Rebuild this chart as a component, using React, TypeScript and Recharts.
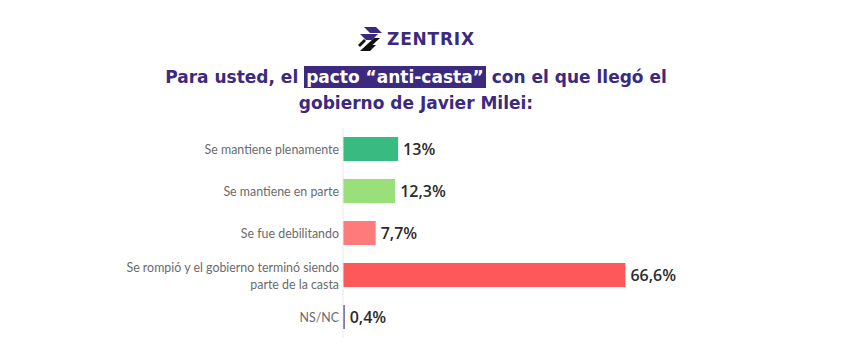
import React from 'react';
import { BarChart, Bar, XAxis, YAxis, Cell, LabelList } from 'recharts';

// respuestas de la encuesta
const categories = [
  'Se mantiene plenamente',
  'Se mantiene en parte',
  'Se fue debilitando',
  'Se rompió y el gobierno terminó siendo\nparte de la casta',
  'NS/NC',
];
const values = [13, 12.3, 7.7, 66.6, 0.4];
const barColors = ['#38ba80', '#9ae07a', '#ff7b7b', '#ff585a', '#4b3f98'];

const data = categories.map((name, i) => ({ name, value: values[i] }));

const PURPLE = '#3b2a80';

const CategoryTick = (props: any) => {
  const { x, y, payload } = props;
  const lines: string[] = String(payload.value).split('\n');
  const lineHeight = 17;
  const startY = y - ((lines.length - 1) * lineHeight) / 2;
  return (
    <text
      x={x}
      y={startY}
      textAnchor="end"
      dominantBaseline="central"
      fill="#6b6b6b"
      fontSize={12.4}
      fontFamily="Lato, sans-serif"
    >
      {lines.map((line, i) => (
        <tspan key={i} x={x} y={startY + i * lineHeight}>
          {line}
        </tspan>
      ))}
    </text>
  );
};

const formatPct = (v: number) => `${String(v).replace('.', ',')}%`;

const Logo = () => (
  <div style={{ position: 'absolute', left: 356, top: 25, display: 'flex', alignItems: 'center' }}>
    <svg width="28" height="28" viewBox="0 0 28 28">
      <polygon points="8,2 20,2 26,8 14,8" fill={PURPLE} />
      <polygon points="4,9 22,9 16,15 10,15" fill={PURPLE} />
      <polygon points="18,13 24,13 10,26 4,26" fill="#111" />
      <polygon points="2,20 8,14 10,16 4,22" fill="#111" />
      <polygon points="14,20 20,20 14,26 8,26" fill="#111" />
    </svg>
    <span
      style={{
        marginLeft: 3,
        fontFamily: '"DejaVu Sans", sans-serif',
        fontWeight: 600,
        fontSize: 17,
        letterSpacing: 0.8,
        color: PURPLE,
      }}
    >
      ZENTRIX
    </span>
  </div>
);

export default function App() {
  return (
    <div style={{ position: 'absolute', left: 0, top: 0, width: 847, height: 361, background: '#fff' }}>
      <Logo />
      <div
        style={{
          position: 'absolute',
          left: 0,
          top: 64,
          width: 832,
          textAlign: 'center',
          fontFamily: '"DejaVu Sans", sans-serif',
          fontWeight: 700,
          fontSize: 17,
          lineHeight: '26px',
          color: PURPLE,
        }}
      >
        Para usted, el{' '}
        <span style={{ background: PURPLE, color: '#fff', padding: '1px 2px' }}>pacto “anti-casta”</span>{' '}
        con el que llegó el
        <br />
        gobierno de Javier Milei:
      </div>
      <div style={{ position: 'absolute', left: 0, top: 0 }}>
        <BarChart
          width={847}
          height={361}
          data={data}
          layout="vertical"
          margin={{ top: 128, right: 80, left: 0, bottom: 23 }}
          barCategoryGap={9}
        >
          <XAxis type="number" domain={[0, 100]} hide />
          <YAxis
            type="category"
            dataKey="name"
            width={343}
            axisLine={{ stroke: '#e8e8e8' }}
            tickLine={false}
            tickSize={0}
            tickMargin={4}
            tick={<CategoryTick />}
            interval={0}
          />
          <Bar dataKey="value" isAnimationActive={false}>
            {data.map((d, i) => (
              <Cell key={d.name} fill={barColors[i]} />
            ))}
            <LabelList
              dataKey="value"
              position="right"
              offset={5}
              formatter={(v: any) => formatPct(Number(v))}
              fill="#2b2b2b"
              fontSize={16}
              fontWeight={600}
              fontFamily="'Open Sans', sans-serif"
            />
          </Bar>
        </BarChart>
      </div>
    </div>
  );
}
